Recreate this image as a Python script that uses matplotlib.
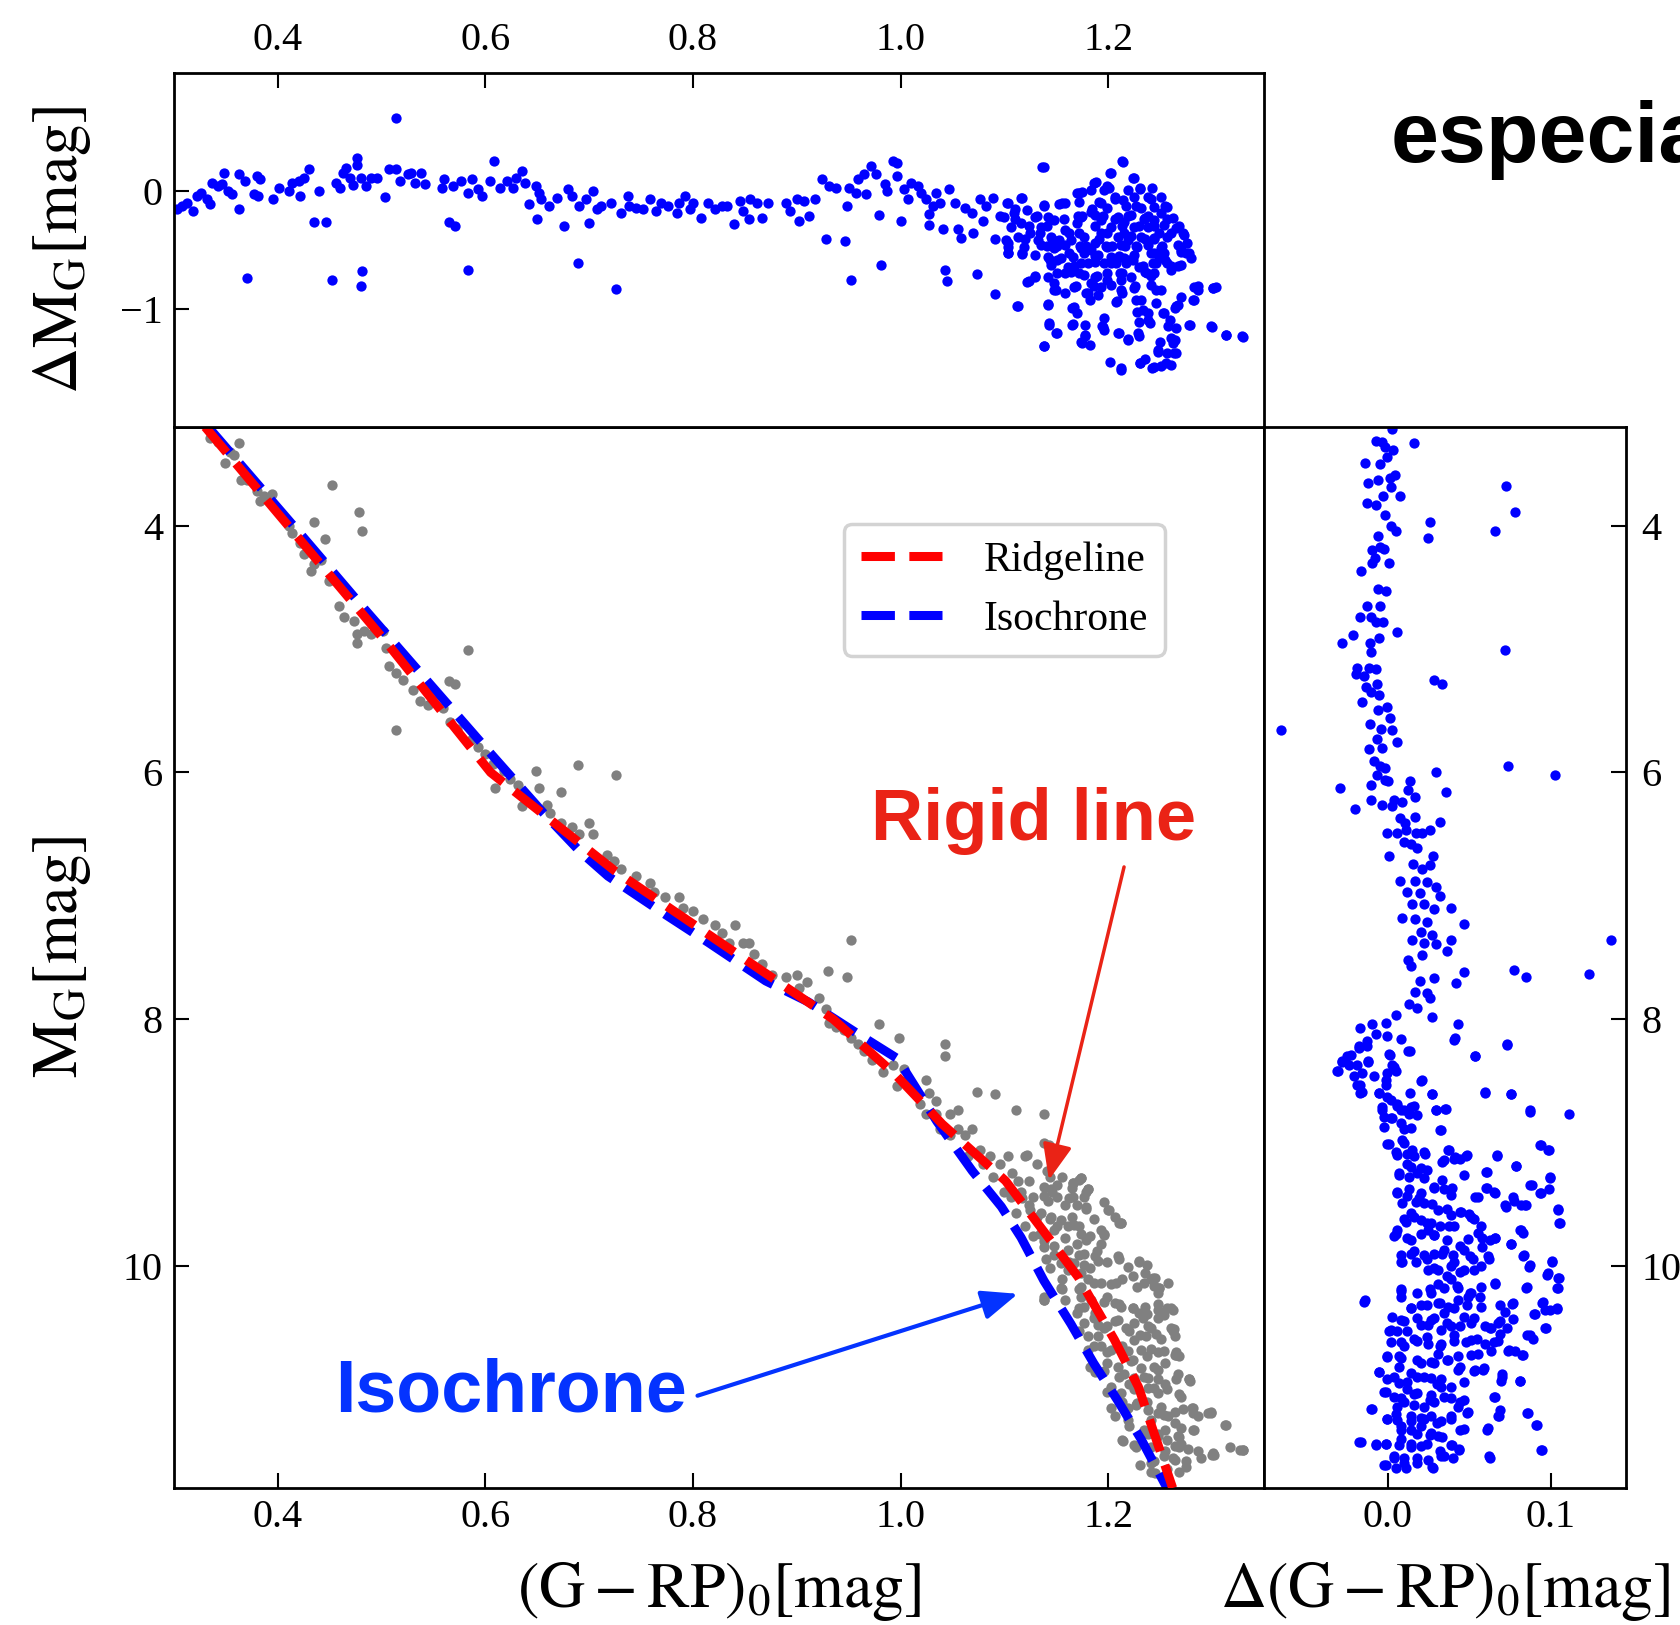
import matplotlib
matplotlib.use("Agg")
import matplotlib.pyplot as plt

plt.rcParams['font.family'] = ['Liberation Serif', 'DejaVu Serif']
plt.rcParams['mathtext.fontset'] = 'stix'

# ridgeline and isochrone (G-RP)_0 vs M_G
ridge_color = [0.330, 0.410, 0.505, 0.605, 0.725, 0.830, 0.935, 0.995, 1.040, 1.101, 1.171, 1.206, 1.229, 1.262]
ridge_mg = [3.20, 4.00, 4.95, 6.00, 6.80, 7.40, 8.00, 8.45, 8.85, 9.31, 10.09, 10.60, 10.98, 11.80]

iso_color = [0.333, 0.415, 0.484, 0.567, 0.608, 0.656, 0.691, 0.718, 0.773, 0.815, 0.870, 0.911, 0.959,
             0.997, 1.035, 1.069, 1.097, 1.116, 1.138, 1.164, 1.186, 1.209, 1.232, 1.254, 1.258]
iso_mg = [3.20, 4.00, 4.68, 5.48, 5.875, 6.33, 6.64, 6.84, 7.15, 7.38, 7.69, 7.86, 8.12,
          8.32, 8.83, 9.23, 9.52, 9.77, 10.12, 10.47, 10.79, 11.09, 11.41, 11.76, 11.82]

# member stars in the CMD
cmd_color = [0.335, 0.342, 0.349, 0.354, 0.363, 0.358, 0.365, 0.370, 0.380, 0.383, 0.387, 0.394, 0.411, 0.414,
             0.421, 0.425, 0.432, 0.435, 0.435, 0.445, 0.452, 0.478, 0.481, 0.442, 0.449, 0.459, 0.464, 0.473,
             0.476, 0.476, 0.483, 0.490, 0.501, 0.504, 0.507, 0.514, 0.514, 0.521, 0.530, 0.537, 0.545, 0.559,
             0.565, 0.571, 0.583, 0.566, 0.573, 0.587, 0.593, 0.600, 0.607, 0.609, 0.618, 0.624, 0.631, 0.635,
             0.638, 0.645, 0.649, 0.652, 0.659, 0.673, 0.662, 0.673, 0.683, 0.689, 0.690, 0.700, 0.704, 0.717,
             0.726, 0.724, 0.731, 0.745, 0.759, 0.762, 0.773, 0.786, 0.790, 0.800, 0.810, 0.821, 0.828, 0.840,
             0.835, 0.848, 0.854, 0.859, 0.866, 0.876, 0.890, 0.900, 0.902, 0.910, 0.921, 0.928, 0.930, 0.948,
             0.952, 0.931, 0.938, 0.945, 0.952, 0.959, 0.965, 0.972, 0.979, 0.983, 0.993, 0.996, 0.998, 1.003,
             1.007, 1.024, 1.027, 1.034, 1.043, 1.043, 1.019, 1.024, 1.034, 1.048, 1.055, 1.055, 1.062, 1.069,
             1.074, 1.076, 1.086, 1.091, 1.096, 1.103, 1.111, 1.107, 1.120, 1.131, 1.138, 1.138, 1.141, 1.144,
             1.146, 1.151, 1.155, 1.158, 1.165, 1.172, 1.179, 1.113, 1.117, 1.124, 1.131, 1.120, 1.134, 1.144,
             1.151, 1.158, 1.165, 1.172, 1.179, 1.186, 1.196, 1.210, 1.138, 1.148, 1.162, 1.172, 1.182, 1.189,
             1.199, 1.210, 1.213, 1.224, 1.234, 1.241, 1.248, 1.144, 1.155, 1.172, 1.186, 1.199, 1.210, 1.224,
             1.237, 1.248, 1.262, 1.138, 1.158, 1.172, 1.186, 1.196, 1.206, 1.220, 1.231, 1.241, 1.251, 1.262,
             1.265, 1.172, 1.186, 1.199, 1.213, 1.224, 1.237, 1.248, 1.255, 1.268, 1.182, 1.196, 1.210, 1.220,
             1.234, 1.244, 1.255, 1.268, 1.279, 1.199, 1.213, 1.227, 1.237, 1.248, 1.258, 1.272, 1.282, 1.206,
             1.220, 1.234, 1.248, 1.255, 1.268, 1.282, 1.296, 1.213, 1.227, 1.241, 1.255, 1.268, 1.286, 1.300,
             1.317, 1.327, 1.231, 1.244, 1.262, 1.275, 1.289, 1.241, 1.268, 1.138, 1.155, 1.248, 1.258, 1.237,
             1.244, 1.206, 1.196, 1.179, 1.162, 1.138, 1.124, 1.100, 1.089, 1.079, 1.065, 1.048, 1.038, 1.174,
             1.166, 1.180, 1.200, 1.212, 1.230, 1.243, 1.249, 1.260, 1.263, 1.265, 1.278, 1.282, 1.299, 1.313,
             1.330, 1.302, 1.143, 1.122]
cmd_mg = [3.29, 3.32, 3.49, 3.40, 3.33, 3.43, 3.63, 3.63, 3.72, 3.80, 3.76, 3.74, 4.00, 4.06,
          4.14, 4.23, 4.37, 4.31, 3.97, 4.11, 3.67, 3.89, 4.04, 4.28, 4.45, 4.65, 4.74, 4.77,
          4.88, 4.95, 4.85, 4.88, 4.85, 4.99, 5.14, 5.19, 5.66, 5.25, 5.33, 5.42, 5.45, 5.48,
          5.26, 5.28, 5.01, 5.59, 5.65, 5.73, 5.79, 5.85, 5.93, 6.13, 5.99, 6.05, 6.10, 6.27,
          6.19, 6.24, 5.99, 6.13, 6.26, 6.16, 6.33, 6.41, 6.44, 5.94, 6.50, 6.41, 6.50, 6.67,
          6.02, 6.72, 6.78, 6.84, 6.90, 6.97, 7.01, 7.01, 7.10, 7.12, 7.19, 7.24, 7.30, 7.24,
          7.38, 7.38, 7.38, 7.47, 7.55, 7.64, 7.66, 7.64, 7.75, 7.70, 7.83, 7.92, 7.61, 7.66,
          7.36, 8.03, 8.06, 8.09, 8.15, 8.20, 8.26, 8.33, 8.04, 8.43, 8.37, 8.54, 8.15, 8.40,
          8.49, 8.49, 8.60, 8.66, 8.20, 8.30, 8.69, 8.77, 8.77, 8.77, 8.74, 8.89, 8.94, 8.89,
          8.59, 9.06, 9.11, 8.61, 9.17, 9.11, 8.74, 9.25, 9.11, 9.17, 8.77, 9.00, 9.23, 9.28,
          9.40, 9.34, 9.28, 9.51, 9.37, 9.30, 9.40, 9.31, 9.45, 9.51, 9.60, 9.68, 9.74, 9.62,
          9.68, 9.77, 9.60, 9.68, 9.79, 9.62, 9.74, 9.65, 9.85, 9.91, 9.97, 9.91, 10.02, 9.88,
          9.97, 9.94, 10.11, 10.08, 10.14, 10.11, 10.22, 10.02, 10.11, 10.19, 10.14, 10.25, 10.31, 10.34,
          10.39, 10.42, 10.36, 10.25, 10.28, 10.34, 10.42, 10.50, 10.45, 10.53, 10.56, 10.50, 10.59, 10.53,
          10.70, 10.53, 10.65, 10.70, 10.65, 10.76, 10.73, 10.70, 10.79, 10.73, 10.82, 10.85, 10.90, 10.96,
          10.90, 10.99, 10.96, 11.04, 10.93, 11.02, 11.10, 11.13, 11.10, 11.19, 11.22, 11.16, 11.19, 11.22,
          11.30, 11.33, 11.36, 11.33, 11.39, 11.33, 11.19, 11.41, 11.47, 11.47, 11.50, 11.47, 11.50, 11.53,
          11.47, 11.49, 11.61, 11.58, 11.56, 11.58, 11.56, 11.67, 11.67, 10.28, 10.19, 10.31, 10.14, 9.99,
          10.16, 9.60, 9.48, 9.54, 9.45, 9.43, 9.31, 9.40, 9.28, 9.17, 9.11, 8.94, 8.89, 9.29,
          9.33, 9.38, 9.55, 9.65, 9.97, 10.10, 10.18, 10.34, 10.51, 10.72, 10.92, 11.15, 11.19, 11.29,
          11.49, 11.53, 9.02, 9.10]

# the crowded lower main sequence
cmd_color_low = [1.138, 1.145, 1.151, 1.142, 1.166, 1.174, 1.180, 1.177, 1.166, 1.170, 1.179, 1.127, 1.116, 1.106,
                 1.111, 1.125, 1.135, 1.145, 1.154, 1.148, 1.161, 1.167, 1.174, 1.182, 1.201, 1.212, 1.193, 1.196,
                 1.127, 1.138, 1.148, 1.161, 1.170, 1.177, 1.187, 1.193, 1.140, 1.154, 1.167, 1.177, 1.190, 1.209, 1.219, 1.230,
                 1.161, 1.174, 1.180, 1.193, 1.203, 1.207, 1.228, 1.235, 1.245, 1.249, 1.154, 1.138, 1.174,
                 1.174, 1.183, 1.196, 1.206, 1.212, 1.224, 1.230, 1.235, 1.248, 1.257, 1.254, 1.177, 1.170, 1.187,
                 1.177, 1.190, 1.199, 1.209, 1.217, 1.225, 1.233, 1.238, 1.246, 1.260, 1.264, 1.180, 1.190, 1.225, 1.236,
                 1.180, 1.193, 1.203, 1.219, 1.232, 1.241, 1.254, 1.264, 1.199, 1.209, 1.222, 1.232, 1.244, 1.248,
                 1.187, 1.215, 1.225, 1.238, 1.248, 1.267, 1.265, 1.278, 1.238, 1.248, 1.257, 1.270, 1.203, 1.212, 1.225,
                 1.203, 1.219, 1.228, 1.238, 1.251, 1.264, 1.281, 1.286, 1.299, 1.219, 1.241, 1.254, 1.264,
                 1.270, 1.283, 1.312, 1.238, 1.248, 1.257, 1.267, 1.214, 1.225, 1.264, 1.277, 1.270, 1.301, 1.330,
                 1.241, 1.254, 1.264, 1.275, 1.257, 1.245]
cmd_mg_low = [9.36, 9.38, 9.44, 9.47, 9.33, 9.29, 9.38, 9.44, 9.44, 9.51, 9.52, 9.44, 9.40, 9.44,
              9.57, 9.55, 9.57, 9.60, 9.63, 9.71, 9.68, 9.67, 9.74, 9.76, 9.55, 9.65, 9.71, 9.75,
              9.76, 9.80, 9.84, 9.87, 9.82, 9.90, 9.92, 9.82, 9.94, 9.98, 9.98, 9.99, 9.96, 9.92, 10.01, 9.96,
              10.03, 10.06, 10.11, 10.14, 10.15, 10.14, 10.17, 10.06, 10.10, 10.18, 10.18, 10.28, 10.17,
              10.25, 10.28, 10.29, 10.30, 10.33, 10.34, 10.38, 10.33, 10.36, 10.34, 10.40, 10.33, 10.38, 10.38,
              10.46, 10.48, 10.49, 10.44, 10.50, 10.46, 10.42, 10.49, 10.55, 10.50, 10.57, 10.57, 10.57, 10.60, 10.57,
              10.68, 10.65, 10.68, 10.69, 10.68, 10.67, 10.69, 10.72, 10.79, 10.82, 10.77, 10.83, 10.82, 10.84,
              10.86, 10.88, 10.91, 10.91, 10.92, 10.88, 10.92, 10.92, 10.99, 11.03, 11.00, 11.06, 10.98, 11.03, 11.00,
              11.15, 11.15, 11.11, 11.17, 11.14, 11.18, 11.15, 11.22, 11.18, 11.25, 11.25, 11.21, 11.27,
              11.31, 11.33, 11.29, 11.36, 11.38, 11.41, 11.38, 11.42, 11.45, 11.46, 11.48, 11.44, 11.52, 11.49,
              11.60, 11.54, 11.57, 11.63, 11.65, 11.68]

# top panel: Delta M_G vs (G-RP)_0
top_color = [0.303, 0.308, 0.313, 0.318, 0.322, 0.326, 0.332, 0.335, 0.337, 0.342, 0.346, 0.348, 0.352, 0.356,
             0.363, 0.363, 0.368, 0.370, 0.377, 0.380, 0.383, 0.381, 0.395, 0.401, 0.411, 0.414, 0.420, 0.421,
             0.425, 0.430, 0.435, 0.440, 0.446, 0.452, 0.456, 0.460, 0.463, 0.466, 0.470, 0.472, 0.476, 0.476,
             0.480, 0.481, 0.480, 0.485, 0.490, 0.496, 0.503, 0.507, 0.514, 0.514, 0.518, 0.525, 0.528, 0.532,
             0.538, 0.542, 0.558, 0.560, 0.565, 0.569, 0.571, 0.576, 0.583, 0.583, 0.587, 0.593, 0.597, 0.604,
             0.608, 0.614, 0.621, 0.627, 0.629, 0.635, 0.638, 0.642, 0.649, 0.650, 0.652, 0.654, 0.661, 0.669,
             0.676, 0.680, 0.683, 0.689, 0.690, 0.697, 0.700, 0.704, 0.707, 0.711, 0.721, 0.726, 0.731, 0.737,
             0.738, 0.745, 0.752, 0.759, 0.764, 0.769, 0.776, 0.785, 0.786, 0.792, 0.797, 0.800, 0.808, 0.814,
             0.821, 0.828, 0.833, 0.839, 0.845, 0.848, 0.854, 0.855, 0.862, 0.866, 0.872, 0.890, 0.893, 0.900,
             0.902, 0.907, 0.912, 0.917, 0.924, 0.928, 0.931, 0.938, 0.946, 0.948, 0.950, 0.952, 0.957, 0.959,
             0.965, 0.967, 0.971, 0.976, 0.979, 0.981, 0.985, 0.987, 0.993, 0.996, 0.996, 1.000, 1.003, 1.007,
             1.010, 1.017, 1.020, 1.024, 1.027, 1.027, 1.031, 1.034, 1.038, 1.041, 1.043, 1.045, 1.047, 1.052,
             1.055, 1.058, 1.062, 1.069, 1.070, 1.074, 1.076, 1.079, 1.082, 1.089, 1.091, 1.091, 1.096, 1.102,
             1.103, 1.103, 1.110, 1.112, 1.116, 1.117, 1.120, 1.124, 1.129, 1.136, 1.138, 1.138, 1.141, 1.142,
             1.144, 1.143, 1.148, 1.150, 1.151, 1.155, 1.158, 1.162, 1.165, 1.165, 1.169, 1.171, 1.172, 1.173,
             1.175, 1.178, 1.179, 1.180, 1.182, 1.186, 1.187, 1.189, 1.193, 1.194, 1.196, 1.198, 1.199, 1.202,
             1.203, 1.206, 1.208, 1.210, 1.212, 1.213, 1.212, 1.215, 1.217, 1.219, 1.220, 1.224, 1.226, 1.227,
             1.229, 1.231, 1.231, 1.233, 1.234, 1.237, 1.240, 1.241, 1.242, 1.244, 1.246, 1.248, 1.249, 1.251,
             1.253, 1.255, 1.256, 1.258, 1.260, 1.262, 1.263, 1.265, 1.267, 1.268, 1.270, 1.272, 1.275, 1.279,
             1.282, 1.286, 1.301, 1.299, 1.313, 1.329, 1.110, 1.124, 1.131, 1.134, 1.141, 1.146, 1.151, 1.157,
             1.162, 1.167, 1.172, 1.175, 1.179, 1.184, 1.187, 1.191, 1.195, 1.199, 1.204, 1.206, 1.210, 1.213,
             1.216, 1.219, 1.222, 1.224, 1.227, 1.230, 1.233, 1.235, 1.238, 1.241, 1.244, 1.246, 1.249, 1.252,
             1.255, 1.257, 1.260, 1.213, 1.199, 1.186, 1.172, 1.158, 1.241, 1.227, 1.213]
top_dmg = [-0.156, -0.127, -0.099, -0.170, -0.042, -0.014, -0.071, -0.113, 0.071, 0.042, 0.057, 0.156, 0.0, -0.028,
           0.142, -0.156, 0.085, -0.737, -0.028, 0.127, 0.099, -0.042, -0.071, 0.028, 0.0, 0.071, 0.085, -0.042,
           0.113, 0.184, -0.263, 0.0, -0.261, -0.751, 0.065, 0.028, 0.156, 0.198, 0.113, 0.048, 0.283, 0.218,
           0.113, -0.680, -0.807, 0.042, 0.113, 0.113, -0.048, 0.184, 0.184, 0.615, 0.085, 0.142, 0.156, 0.071,
           0.156, 0.057, 0.028, 0.099, -0.263, 0.042, -0.297, 0.085, -0.014, -0.666, 0.099, 0.014, -0.042, 0.085,
           0.255, 0.028, 0.085, 0.028, 0.113, 0.170, 0.071, -0.113, 0.042, -0.241, -0.014, -0.071, -0.127, -0.057,
           -0.297, 0.014, -0.042, -0.609, -0.127, -0.071, -0.269, 0.0, -0.156, -0.127, -0.099, -0.830, -0.184, -0.042,
           -0.127, -0.142, -0.156, -0.071, -0.170, -0.099, -0.127, -0.184, -0.099, -0.042, -0.156, -0.099, -0.227, -0.099,
           -0.156, -0.127, -0.127, -0.283, -0.085, -0.170, -0.241, -0.071, -0.099, -0.227, -0.099, -0.099, -0.170, -0.071,
           -0.255, -0.085, -0.212, -0.071, 0.099, -0.411, 0.042, 0.028, -0.425, -0.127, 0.028, -0.751, -0.014, 0.099,
           0.142, -0.028, 0.212, 0.142, -0.204, -0.623, 0.057, 0.0, 0.255, 0.241, 0.127, -0.255, 0.014, -0.071,
           0.071, 0.042, -0.014, -0.071, -0.198, -0.289, -0.127, -0.014, -0.099, -0.326, -0.666, -0.765, 0.014, -0.099,
           -0.326, -0.397, -0.142, -0.184, -0.354, -0.700, -0.071, -0.255, -0.127, -0.057, -0.411, -0.873, -0.212, -0.099,
           -0.439, -0.524, -0.156, -0.972, -0.057, -0.524, -0.411, -0.765, -0.722, 0.207, -0.127, -1.317, -0.297, -0.963,
           -0.581, -1.133, -0.836, -1.204, -0.467, -0.099, -0.694, -0.354, -0.992, -1.133, -0.807, -0.212, -0.014, -0.467,
           -1.289, -1.232, -0.864, -0.609, -0.921, 0.071, -0.297, -0.722, -0.099, -1.147, -1.076, -0.467, 0.042, 0.156,
           -0.609, -0.241, -0.935, -1.204, -0.751, 0.255, -1.516, -0.354, -0.127, -1.261, -0.581, 0.113, -0.807, -0.467,
           -1.204, 0.028, -1.459, -1.006, -0.241, -0.694, -1.119, -0.071, -1.501, -0.411, -0.836, -1.346, -0.552, -0.184,
           -1.034, -0.127, -1.459, -1.147, -0.354, -1.289, -1.374, -0.977, -0.637, -0.297, -0.496, -0.354, -0.524, -1.133,
           -0.921, -0.807, -0.822, -1.147, -1.218, -1.232, -0.241, -0.297, -0.212, -0.354, -0.467, -0.411, -0.581, -0.241,
           -0.524, -0.637, -0.354, -0.212, -0.467, -0.156, -0.552, -0.411, -0.212, -0.354, -0.467, -0.071, -0.552, -0.297,
           -0.467, -0.212, -0.382, -0.581, -0.127, -0.297, -0.637, -0.411, -0.212, -0.524, -0.297, -0.609, -0.354, -0.467,
           -0.581, -0.241, -0.637, -0.694, -0.751, -0.807, -0.694, -0.864, -0.722, -0.921, -0.864]

# the crowded red end of the top panel
top_color_red = [1.138, 1.214, 1.203, 1.225, 1.188, 1.183, 1.196, 1.201, 1.219, 1.231, 1.242, 1.170, 1.175,
                 1.103, 1.117, 1.138, 1.153, 1.158, 1.172, 1.191, 1.206, 1.214, 1.225, 1.238, 1.251, 1.257, 1.199, 1.183, 1.232, 1.244,
                 1.100, 1.109, 1.122, 1.129, 1.142, 1.148, 1.174, 1.187, 1.193, 1.209, 1.215, 1.222, 1.235, 1.244, 1.254, 1.262,
                 1.106, 1.116, 1.135, 1.158, 1.170, 1.203, 1.225, 1.238, 1.265,
                 1.101, 1.113, 1.125, 1.132, 1.145, 1.153, 1.164, 1.177, 1.187, 1.193, 1.209, 1.219, 1.232, 1.244, 1.257, 1.273,
                 1.103, 1.119, 1.135, 1.148, 1.158, 1.174, 1.183, 1.199, 1.212, 1.228, 1.238, 1.251, 1.267, 1.276,
                 1.103, 1.117, 1.129, 1.142, 1.154, 1.166, 1.177, 1.190, 1.203, 1.215, 1.225, 1.244, 1.254, 1.270, 1.278,
                 1.145, 1.161, 1.174, 1.187, 1.196, 1.207, 1.217, 1.230, 1.243, 1.257, 1.270, 1.280,
                 1.129, 1.122, 1.142, 1.151, 1.164, 1.177, 1.187, 1.199, 1.211, 1.222, 1.235, 1.244, 1.260,
                 1.148, 1.167, 1.183, 1.193, 1.203, 1.212, 1.225, 1.241, 1.251,
                 1.150, 1.180, 1.190, 1.232, 1.246, 1.113, 1.142, 1.167, 1.207, 1.270, 1.283, 1.286, 1.301, 1.304,
                 1.283, 1.264, 1.267, 1.228, 1.238, 1.254, 1.170,
                 1.143, 1.166, 1.178, 1.195, 1.196, 1.151, 1.230, 1.238, 1.259, 1.265, 1.278, 1.300, 1.313, 1.330,
                 1.209, 1.219, 1.230, 1.178, 1.174, 1.182, 1.138, 1.250, 1.260, 1.264,
                 1.248, 1.257, 1.265, 1.202, 1.212, 1.231, 1.235, 1.244, 1.251, 1.260]
top_dmg_red = [0.206, 0.243, 0.150, 0.107, 0.073, 0.009, 0.009, 0.023, 0.009, 0.014, 0.028, -0.020, -0.006,
               -0.104, -0.062, -0.119, -0.110, -0.104, -0.090, -0.090, -0.048, -0.076, -0.048, -0.048, -0.048, -0.133, -0.147, -0.175, -0.147, -0.133,
               -0.217, -0.189, -0.161, -0.217, -0.217, -0.246, -0.217, -0.203, -0.246, -0.217, -0.260, -0.203, -0.232, -0.246, -0.288, -0.232,
               -0.302, -0.274, -0.302, -0.330, -0.274, -0.302, -0.302, -0.302, -0.316,
               -0.415, -0.387, -0.359, -0.415, -0.387, -0.415, -0.415, -0.387, -0.443, -0.359, -0.387, -0.415, -0.387, -0.401, -0.387, -0.373,
               -0.472, -0.472, -0.458, -0.486, -0.458, -0.486, -0.500, -0.472, -0.458, -0.472, -0.458, -0.486, -0.458, -0.443,
               -0.528, -0.534, -0.542, -0.556, -0.571, -0.556, -0.528, -0.542, -0.556, -0.571, -0.542, -0.528, -0.528, -0.514, -0.528,
               -0.627, -0.641, -0.613, -0.599, -0.613, -0.613, -0.613, -0.641, -0.613, -0.613, -0.627, -0.571,
               -0.726, -0.768, -0.726, -0.698, -0.684, -0.712, -0.726, -0.698, -0.698, -0.726, -0.684, -0.698, -0.669,
               -0.782, -0.811, -0.782, -0.811, -0.797, -0.839, -0.825, -0.797, -0.839,
               -0.839, -0.867, -0.881, -0.924, -0.952, -0.972, -0.958, -0.980, -0.943, -0.895, -0.811, -0.839, -0.825, -0.811,
               -0.924, -0.994, -0.966, -1.023, -1.037, -1.037, -1.037,
               -1.121, -1.130, -1.136, -1.150, -1.178, -1.206, -1.107, -1.093, -1.093, -1.164, -1.136, -1.150, -1.220, -1.240,
               -1.206, -1.257, -1.229, -1.220, -1.277, -1.305, -1.311, -1.277, -1.249, -1.263,
               -1.362, -1.376, -1.370, -1.452, -1.503, -1.460, -1.427, -1.494, -1.483, -1.475]

# right panel: Delta (G-RP)_0 vs M_G
side_dcolor = [0.0027, -0.0076, -0.0035, -0.0020, 0.0159, 0.0033, -0.0004, -0.0141, -0.0051, 0.0012, 0.0043, -0.0122,
               -0.0061, 0.0016, 0.0073, -0.0029, -0.0127, -0.0076, -0.0018, 0.0020, 0.0261, 0.0047, 0.0247, 0.0655,
               0.0725, 0.0778, -0.0061, -0.0100, -0.0051, -0.0024, -0.0080, -0.0096, 0.0006, -0.0163, -0.0061, -0.0014,
               -0.0127, -0.0049, -0.0173, -0.0106, -0.0076, -0.0029, 0.0057, -0.0214, -0.0284, -0.0110, -0.0055, 0.0720,
               -0.0106, -0.0188, -0.0116, -0.0076, -0.0198, -0.0147, 0.0282, 0.0333, -0.0137, -0.0065, -0.0106, -0.0161,
               -0.0055, -0.0008, -0.0059, -0.0110, 0.0010, -0.0657, -0.0045, 0.0027, -0.0065, 0.0057, -0.0116, -0.0035,
               -0.0086, -0.0049, -0.0020, 0.0735, 0.1022, 0.0292, -0.0065, -0.0018, -0.0106, -0.0296, 0.0002, 0.0133,
               0.0124, 0.0359, -0.0106, -0.0039, 0.0037, -0.0204, 0.0084, 0.0163, 0.0022, 0.0073, 0.0104, 0.0163,
               0.0318, -0.0004, 0.0057, 0.0108, 0.0173, 0.0210, 0.0261, 0.0098, 0.0139, 0.0180, 0.0006, 0.0276,
               0.0155, 0.0210, 0.0261, 0.0073, 0.0169, 0.0241, 0.0292, 0.0118, 0.0196, 0.0322, 0.0149, 0.0220,
               0.0282, 0.0388, 0.0088, 0.0169, 0.0237, 0.0465, 0.0200, 0.0271, 0.0149, 0.0220, 0.0292, 0.0388,
               0.0122, 0.0210, 0.0363, 0.0139, 0.0469, 0.0771, 0.0847, 0.1235, 0.1367, 0.0196, 0.0282, 0.0418,
               0.0163, 0.0241, 0.0129, 0.0180, 0.0261, 0.0271, 0.0047, -0.0014, -0.0171, -0.0096, -0.0076, -0.0127,
               -0.0004, 0.0078, 0.0429, 0.0414, 0.0731, 0.0133, 0.0012, -0.0178, -0.0229, -0.0122, -0.0280, -0.0239,
               -0.0304, -0.0208, -0.0171, -0.0157, 0.0027, 0.0047, -0.0014, -0.0055, 0.0206, 0.0533, 0.0598, 0.0755,
               0.0873, 0.1112, 0.0271, 0.0353, 0.0292, -0.0004, 0.0057, -0.0035, 0.0027, 0.0078, 0.0129, 0.0159,
               -0.0024, 0.0098, 0.0322, 0.0098, 0.0006, 0.0149, 0.0220, 0.0373, 0.0445, 0.0669, 0.0935, 0.0980,
               0.0057, 0.0118, 0.0180, 0.0067, 0.0241, 0.0333, 0.0414, 0.0486, 0.0604, 0.0786, 0.0996, 0.0873,
               0.0935, 0.0720, 0.0771, 0.0843, 0.1043, 0.1051, 0.0537, 0.0608, 0.0649, 0.0333, 0.0394, 0.0282,
               0.0057, 0.0118, 0.0190, 0.0271, 0.0363, 0.0445, 0.0496, 0.0098, 0.0159, 0.0241, 0.0322, 0.0404,
               0.0527, 0.0578, 0.0629, 0.0659, 0.0755, 0.0812, 0.0833, 0.0047, 0.0118, 0.0200, 0.0282, 0.0363,
               0.0445, 0.0078, 0.0159, 0.0241, 0.0333, 0.0404, 0.0506, 0.0578, 0.0618, 0.0873, 0.1006, 0.0975,
               0.1047, 0.0088, 0.0282, 0.0363, 0.0445, 0.0527, 0.0659, 0.0847, 0.1037, 0.0078, 0.0180, 0.0261,
               0.0343, 0.0424, 0.0506, 0.0567, -0.0141, 0.0139, 0.0241, 0.0322, 0.0404, 0.0486, 0.0690, 0.0761,
               0.0945, 0.0965, 0.1037, 0.0894, 0.0027, 0.0098, 0.0200, 0.0282, 0.0363, 0.0445, 0.0527, 0.0629,
               0.0690, 0.0731, 0.0853, 0.0965, 0.0006, 0.0078, 0.0159, 0.0241, 0.0322, 0.0404, 0.0476, 0.0547,
               0.0649, 0.0741, 0.0822, -0.0004, 0.0067, 0.0180, 0.0282, 0.0363, 0.0445, 0.0527, 0.0588, 0.0700,
               0.0812, -0.0055, 0.0037, 0.0118, 0.0220, 0.0302, 0.0384, 0.0465, 0.0649, -0.0014, 0.0078, 0.0159,
               0.0261, 0.0343, 0.0445, 0.0486, 0.0680, 0.0853, 0.0910, -0.0096, 0.0047, 0.0139, 0.0220, 0.0302,
               0.0384, -0.0004, 0.0078, 0.0180, 0.0261, 0.0333, 0.0445, 0.0608, -0.0167, -0.0076, -0.0014, 0.0067,
               0.0139, 0.0241, 0.0322, 0.0394, 0.0435, 0.0618, 0.0941, -0.0014, 0.0037, 0.0098, 0.0180, 0.0271,
               0.0343]
side_mg = [3.22, 3.31, 3.32, 3.36, 3.33, 3.39, 3.44, 3.49, 3.50, 3.61, 3.59, 3.65,
           3.63, 3.69, 3.76, 3.76, 3.82, 3.83, 3.91, 4.00, 3.97, 4.04, 4.10, 4.04,
           3.68, 3.89, 4.08, 4.20, 4.17, 4.19, 4.26, 4.30, 4.30, 4.37, 4.51, 4.53,
           4.65, 4.65, 4.74, 4.74, 4.78, 4.78, 4.86, 4.89, 4.95, 4.95, 4.91, 5.01,
           5.02, 5.15, 5.15, 5.16, 5.20, 5.22, 5.25, 5.28, 5.31, 5.28, 5.35, 5.43,
           5.37, 5.47, 5.49, 5.61, 5.56, 5.66, 5.65, 5.66, 5.73, 5.75, 5.81, 5.80,
           5.91, 5.95, 5.96, 5.95, 6.02, 6.00, 6.02, 6.06, 6.10, 6.13, 6.07, 6.07,
           6.14, 6.16, 6.22, 6.26, 6.22, 6.30, 6.24, 6.20, 6.27, 6.37, 6.41, 6.36,
           6.40, 6.49, 6.49, 6.47, 6.49, 6.49, 6.47, 6.56, 6.58, 6.61, 6.68, 6.68,
           6.74, 6.78, 6.75, 6.88, 6.88, 6.89, 6.93, 6.97, 6.98, 7.00, 7.07, 7.07,
           7.11, 7.10, 7.18, 7.19, 7.21, 7.23, 7.29, 7.32, 7.36, 7.38, 7.39, 7.36,
           7.52, 7.48, 7.45, 7.57, 7.62, 7.60, 7.66, 7.63, 7.36, 7.69, 7.67, 7.71,
           7.78, 7.79, 7.88, 7.91, 7.83, 7.98, 7.97, 8.03, 8.07, 8.04, 8.12, 8.18,
           8.14, 8.16, 8.04, 8.15, 8.20, 8.26, 8.29, 8.23, 8.29, 8.35, 8.35, 8.37,
           8.42, 8.46, 8.53, 8.59, 8.37, 8.42, 8.49, 8.60, 8.49, 8.30, 8.59, 8.61,
           8.74, 8.77, 8.61, 8.73, 8.74, 8.63, 8.69, 8.74, 8.80, 8.74, 8.77, 8.70,
           8.87, 8.89, 8.90, 9.00, 9.01, 9.06, 9.08, 9.06, 9.13, 9.10, 9.02, 9.06,
           9.10, 9.17, 9.25, 9.25, 9.22, 9.16, 9.12, 9.10, 9.24, 9.19, 9.28, 9.34,
           9.41, 9.51, 9.47, 9.51, 9.54, 9.65, 9.44, 9.37, 9.40, 9.30, 9.37, 9.37,
           9.40, 9.43, 9.45, 9.50, 9.54, 9.56, 9.58, 9.62, 9.60, 9.65, 9.68, 9.68,
           9.62, 9.77, 9.79, 9.77, 9.82, 9.71, 9.91, 9.74, 9.77, 9.74, 9.75, 9.79,
           9.84, 9.91, 9.88, 9.94, 9.90, 9.97, 9.92, 9.85, 9.94, 9.99, 9.97, 10.07,
           10.10, 9.97, 10.02, 10.08, 10.05, 10.03, 10.14, 10.18, 10.18, 10.20, 10.22, 10.19,
           10.18, 10.16, 10.22, 10.25, 10.28, 10.34, 10.32, 10.30, 10.34, 10.32, 10.32, 10.31,
           10.30, 10.36, 10.35, 10.39, 10.41, 10.45, 10.48, 10.42, 10.46, 10.49, 10.42, 10.50,
           10.45, 10.50, 10.56, 10.50, 10.53, 10.62, 10.59, 10.58, 10.65, 10.56, 10.62, 10.59,
           10.62, 10.68, 10.72, 10.73, 10.73, 10.76, 10.79, 10.76, 10.82, 10.85, 10.83, 10.90,
           10.93, 10.86, 10.90, 10.94, 10.90, 10.96, 10.98, 10.94, 11.06, 11.02, 11.07, 11.04,
           11.09, 11.06, 11.10, 11.19, 11.22, 11.19, 11.29, 11.16, 11.20, 11.22, 11.24, 11.27,
           11.24, 11.24, 11.33, 11.36, 11.37, 11.39, 11.33, 11.33, 11.43, 11.44, 11.44, 11.45,
           11.47, 11.44, 11.50, 11.45, 11.49, 11.54, 11.49, 11.61, 11.56, 11.60, 11.56, 11.63,
           11.54]

# the crowded faint end of the right panel
side_dcolor_faint = [-0.0179, -0.0128, -0.0251, -0.0282, -0.0313, -0.0189, -0.0158, -0.0086, 0.0006, 0.0126, -0.0123, 0.0037,
                     -0.0004, -0.0189, -0.0169, -0.0014, 0.0202, 0.0407, 0.0531, 0.0733,
                     -0.0056, 0.0016, -0.0035, 0.0058, 0.0099, 0.0140, 0.0181, 0.0016, -0.0025, 0.0078, 0.0140, 0.0134,
                     0.0270, 0.0294, 0.0356, 0.0325, 0.0597, 0.0757, 0.0874, 0.0088, -0.0004,
                     0.0047, 0.0119, 0.0160, 0.0228, 0.0140, 0.0202, 0.0366, 0.0346, 0.0407, 0.0479, 0.0671, 0.0788,
                     0.0068, 0.0130, 0.0222, 0.0465, 0.0609, 0.0938, 0.0988, 0.0994, 0.0881, 0.0058, 0.0130, 0.0202,
                     0.0284, 0.0346, 0.0387, 0.0551, 0.0603, 0.0654, 0.0938, 0.0988,
                     0.0088, 0.0171, 0.0222, 0.0305, 0.0140, 0.0109, 0.0202, 0.0263, 0.0387, 0.0449, 0.0510, 0.0377,
                     0.0243, 0.0284, 0.0140, 0.0058, 0.0037, 0.0572, 0.0551, 0.0726, 0.0767, 0.0819, 0.0844, 0.1045,
                     0.1056, 0.0815, 0.0829, 0.0490, 0.0654,
                     0.0140, 0.0222, 0.0284, 0.0346, 0.0397, 0.0469, 0.0521, 0.0613, 0.0078, 0.0171, 0.0243, 0.0305,
                     0.0387, 0.0469, 0.0572, 0.0757, 0.0831, 0.0864, 0.1008, 0.0984, 0.1045, 0.0387, 0.0305, 0.0263,
                     0.0428, 0.0510, 0.0568, 0.0654, 0.0850, 0.1045,
                     0.0078, 0.0078, -0.0148, 0.0140, 0.0202, 0.0305, 0.0366, 0.0428, 0.0490, 0.0572, 0.0346, 0.0263,
                     0.0181, 0.0078, 0.0469, 0.0510, 0.0593, 0.0675, 0.0716, 0.0767, 0.0767, 0.0901, 0.0953, 0.0994,
                     0.1035, 0.0016, 0.0058, 0.0119, 0.0243, 0.0325, 0.0387, 0.0634, 0.0685, 0.0969, 0.0870, 0.0891,
                     0.0016, 0.0099, 0.0181, 0.0243, 0.0325, 0.0407, 0.0510, 0.0593, 0.0675, 0.0305, 0.0366, 0.0263,
                     0.0202, 0.0428, 0.0510, 0.0551, 0.0634, 0.0737, 0.0778, 0.0829, -0.0004, 0.0068, 0.0078, -0.0056,
                     0.0140, 0.0181, 0.0263, 0.0325, 0.0428, 0.0531, 0.0582, 0.0700, 0.0695, 0.0809, -0.0004, 0.0068,
                     -0.0025, 0.0037, 0.0119, 0.0181, 0.0263, 0.0325, 0.0387, 0.0469, 0.0428, 0.0099, 0.0058, 0.0160,
                     0.0222, 0.0284, 0.0654, 0.0685, 0.0675, -0.0103, -0.0004, 0.0058, 0.0140, 0.0202, 0.0263, 0.0325,
                     0.0387, 0.0490, 0.0860, 0.0916,
                     0.0078, 0.0140, 0.0202, 0.0263, 0.0469, 0.0613, -0.0175, -0.0076, -0.0010, 0.0078, 0.0140, 0.0202,
                     0.0305, 0.0387, 0.0438, 0.0942, 0.0037, 0.0099, 0.0181, 0.0243, 0.0325, 0.0397, 0.0623, -0.0025,
                     0.0047, 0.0109, 0.0274]
side_mg_faint = [8.22, 8.22, 8.30, 8.34, 8.42, 8.37, 8.44, 8.46, 8.28, 8.26, 8.34, 8.39,
                 8.44, 8.53, 8.60, 8.53, 8.50, 8.17, 8.30, 8.21,
                 8.60, 8.655, 8.71, 8.70, 8.74, 8.71, 8.78, 8.80, 8.79, 8.84, 8.88, 8.60,
                 8.61, 8.74, 8.73, 8.90, 8.60, 8.61, 8.75, 8.98, 9.01,
                 9.08, 9.09, 9.11, 9.09, 9.20, 9.21, 9.06, 9.14, 9.13, 9.11, 9.11, 9.19,
                 9.26, 9.28, 9.29, 9.26, 9.24, 9.02, 9.06, 9.29, 9.34, 9.41, 9.38, 9.41,
                 9.36, 9.38, 9.425, 9.44, 9.37, 9.41, 9.41, 9.38,
                 9.49, 9.48, 9.49, 9.55, 9.57, 9.64, 9.63, 9.65, 9.59, 9.56, 9.60, 9.68,
                 9.71, 9.75, 9.79, 9.71, 9.76, 9.68, 9.735, 9.52, 9.44, 9.51, 9.51, 9.55,
                 9.65, 9.71, 9.735, 9.78, 9.77,
                 9.90, 9.91, 9.90, 9.87, 9.91, 9.87, 9.94, 9.92, 9.965, 9.965, 10.03, 10.03,
                 10.00, 10.03, 10.00, 9.82, 9.92, 10.01, 9.96, 10.06, 10.10, 10.11, 10.15, 10.22,
                 10.18, 10.22, 10.17, 10.15, 10.17, 10.18,
                 10.19, 10.25, 10.29, 10.34, 10.32, 10.30, 10.33, 10.28, 10.25, 10.33, 10.38, 10.44,
                 10.42, 10.44, 10.41, 10.46, 10.49, 10.46, 10.37, 10.30, 10.43, 10.39, 10.29, 10.36,
                 10.34, 10.52, 10.53, 10.53, 10.48, 10.52, 10.49, 10.50, 10.55, 10.50, 10.56, 10.59,
                 10.62, 10.65, 10.61, 10.63, 10.63, 10.61, 10.60, 10.63, 10.61, 10.71, 10.76, 10.775,
                 10.79, 10.73, 10.72, 10.71, 10.69, 10.69, 10.69, 10.72, 10.74, 10.82, 10.75, 10.86,
                 10.87, 10.90, 10.91, 10.92, 10.84, 10.84, 10.84, 10.88, 10.93, 10.93, 10.92, 10.95,
                 11.02, 11.06, 11.00, 11.03, 11.05, 10.98, 11.07, 11.09, 11.14, 11.10, 11.14, 11.13,
                 11.14, 11.10, 11.06, 11.17, 11.22, 11.16, 11.24, 11.25, 11.26, 11.23, 11.22, 11.26,
                 11.22, 11.18, 11.19, 11.29,
                 11.30, 11.33, 11.30, 11.355, 11.32, 11.315, 11.43, 11.45, 11.44, 11.40, 11.44, 11.46,
                 11.38, 11.45, 11.48, 11.49, 11.54, 11.56, 11.60, 11.57, 11.54, 11.56, 11.56, 11.61,
                 11.64, 11.64, 11.64]

color_ticks = [0.4, 0.6, 0.8, 1.0, 1.2]
mg_ticks = [4, 6, 8, 10]
dmg_ticks = [-1, 0]
dcolor_ticks = [0.0, 0.1]

red_txt = '#EA2316'
blue_txt = '#0433FF'
dot = 55

fig = plt.figure(figsize=(16.81, 16.25), dpi=100)
ax = fig.add_axes([0.10351, 0.08431, 0.64842, 0.65292])
ax_top = fig.add_axes([0.10351, 0.73723, 0.64842, 0.21785])
ax_side = fig.add_axes([0.75193, 0.08431, 0.21535, 0.65292])

tick_kw = dict(direction='in', length=11, width=1.5, labelsize=29, pad=8)
for a in (ax, ax_top, ax_side):
    for sp in a.spines.values():
        sp.set_linewidth(2)

# main CMD
ax.scatter(cmd_color, cmd_mg, s=dot, color='gray', linewidths=0, zorder=1)
ax.scatter(cmd_color_low, cmd_mg_low, s=dot, color='gray', linewidths=0, zorder=1)
ax.plot(ridge_color, ridge_mg, '--', color='red', lw=6.5, label='Ridgeline', zorder=3)
ax.plot(iso_color, iso_mg, '--', color='blue', lw=6.5, label='Isochrone', zorder=2)
ax.set_xlim(0.3, 1.35)
ax.set_ylim(11.8, 3.2)
ax.set_xticks(color_ticks)
ax.set_yticks(mg_ticks)
ax.tick_params(**tick_kw)
ax.set_xlabel(r'$\mathrm{(G-RP)_0[mag]}$', fontsize=46)
ax.set_ylabel(r'$\mathrm{M_G[mag]}$', fontsize=46)
ax.xaxis.set_label_coords(0.5, -0.068)
ax.yaxis.set_label_coords(-0.074, 0.5)
leg = ax.legend(loc='upper right', bbox_to_anchor=(0.909, 0.9086), borderaxespad=0,
                fontsize=30, handlelength=1.95, handletextpad=1.0, framealpha=1, edgecolor='#d3d3d3')
leg.get_frame().set_linewidth(2.5)

ax.text(0.971, 6.548, 'Rigid line', color=red_txt, fontsize=52, fontweight='bold',
        family='Liberation Sans', ha='left', va='baseline', zorder=5)
ax.annotate('', xy=(1.1428, 9.303), xytext=(1.2152, 6.766),
            arrowprops=dict(arrowstyle='-|>,head_length=1.1,head_width=0.45', color=red_txt, lw=2.5,
                            mutation_scale=20, shrinkA=0, shrinkB=0), zorder=5)
ax.text(0.455, 11.184, 'Isochrone', color=blue_txt, fontsize=53, fontweight='bold',
        family='Liberation Sans', ha='left', va='baseline', zorder=5)
ax.annotate('', xy=(1.1129, 10.226), xytext=(0.8043, 11.052),
            arrowprops=dict(arrowstyle='-|>,head_length=1.1,head_width=0.45', color=blue_txt, lw=3,
                            mutation_scale=20, shrinkA=0, shrinkB=0), zorder=5)

# top panel
ax_top.scatter(top_color, top_dmg, s=dot, color='blue', linewidths=0)
ax_top.scatter(top_color_red, top_dmg_red, s=dot, color='blue', linewidths=0)
ax_top.set_xlim(0.3, 1.35)
ax_top.set_ylim(-2, 1)
ax_top.set_xticks(color_ticks)
ax_top.set_yticks(dmg_ticks)
ax_top.tick_params(**tick_kw)
ax_top.tick_params(axis='x', top=True, bottom=False, labeltop=True, labelbottom=False, pad=10)
ax_top.set_ylabel(r'$\mathrm{\Delta M_G[mag]}$', fontsize=46)
ax_top.yaxis.set_label_coords(-0.074, 0.5)

# side panel
ax_side.scatter(side_dcolor, side_mg, s=dot, color='blue', linewidths=0)
ax_side.scatter(side_dcolor_faint, side_mg_faint, s=dot, color='blue', linewidths=0)
ax_side.set_xlim(-0.076, 0.146)
ax_side.set_ylim(11.8, 3.2)
ax_side.set_xticks(dcolor_ticks)
ax_side.set_xticklabels(['0.0', '0.1'])
ax_side.set_yticks(mg_ticks)
ax_side.tick_params(**tick_kw)
ax_side.tick_params(axis='y', left=False, right=True, labelleft=False, labelright=True, pad=11)
ax_side.set_xlabel(r'$\mathrm{\Delta(G-RP)_0[mag]}$', fontsize=46)
ax_side.xaxis.set_label_coords(0.5, -0.068)

fig.text(0.827, 0.9003, 'especia', fontsize=62, fontweight='bold', family='Liberation Sans',
         ha='left', va='baseline')

fig.savefig('out.png', dpi=100)
